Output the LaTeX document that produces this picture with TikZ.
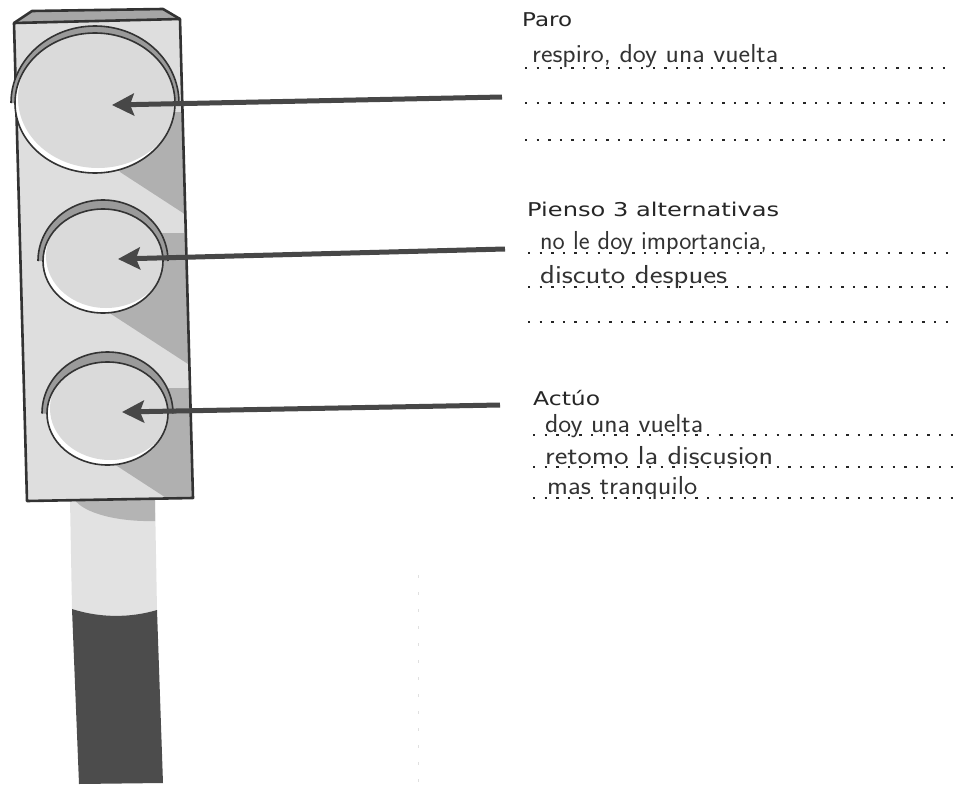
\documentclass[tikz,border=0pt]{standalone}
\usepackage{fontspec}
\usepackage{graphicx}
\setmainfont{DejaVu Sans}
\usetikzlibrary{arrows.meta,calc}

\definecolor{ink}{HTML}{262626}
\definecolor{pencil}{HTML}{333333}
\definecolor{outline}{HTML}{333333}
\definecolor{housingface}{HTML}{DEDEDE}
\definecolor{castshade}{HTML}{B0B0B0}
\definecolor{bevelgray}{HTML}{A6A6A6}
\definecolor{visorgray}{HTML}{9A9A9A}
\definecolor{lensgray}{HTML}{DADADA}
\definecolor{arrowgray}{HTML}{474747}
\definecolor{polelight}{HTML}{E2E2E2}
\definecolor{poledark}{HTML}{4C4C4C}
\definecolor{poleshade}{HTML}{B4B4B4}

% stretch a text to a given width (in pt) while keeping its height
\newcommand\fitto[2]{\resizebox{#1pt}{\height}{#2}}

\tikzset{
  header/.style={anchor=base west, inner sep=0pt, text=ink,
    font=\fontsize{19}{22}\selectfont},
  scribble/.style={anchor=base west, inner sep=0pt, text=pencil,
    font=\sffamily\fontsize{26}{28}\selectfont},
  answerline/.style={draw=ink, line width=2.4pt, dash pattern=on 2.4pt off 9.2pt},
  pointer/.style={draw=arrowgray, line width=5pt,
    -{Stealth[length=22pt,width=22pt,inset=4pt]}},
  housingedge/.style={draw=outline, line width=2.6pt, line join=round},
  lensedge/.style={draw=outline, line width=1.6pt},
}

% diagonal shadow to the right of a lens, kept inside the housing
% #1 x where it leaves the lens bottom, #2 y of that point, #3 lens cx, #4 upper y
\newcommand\lensshadow[4]{%
  \begin{scope}
    \clip (14,23) -- (180,19) -- (193,498) -- (27,501) -- cycle;
    \fill[castshade] (#1,#2) -- ({#1+150},{#2+97.5}) -- (220,#4) -- (#3,#4) -- cycle;
  \end{scope}
}

% visor and lens: #1 name, #2 cx, #3 cy, #4 rx, #5 ry, #6 visor x extra, #7 visor y extra
\newcommand\lamp[7]{%
  \coordinate (#1) at (#2,#3);
  \fill[visorgray] ({#2-#4-#6},#3) arc[start angle=180, end angle=0,
      x radius={#4pt+#6pt}, y radius={#5pt+#7pt}] -- cycle;
  \draw[lensedge] ({#2-#4-#6},#3) arc[start angle=180, end angle=0,
      x radius={#4pt+#6pt}, y radius={#5pt+#7pt}];
  \begin{scope}
    \clip (#1) ellipse[x radius=#4pt, y radius=#5pt];
    \fill[white] (#1) ellipse[x radius=#4pt, y radius=#5pt];
    \fill[lensgray] ($(#1)+(3,-5)$) ellipse[x radius=#4pt, y radius=#5pt];
  \end{scope}
  \draw[lensedge] (#1) ellipse[x radius=#4pt, y radius=#5pt];
}

\begin{document}
\begin{tikzpicture}[x=1pt, y=-1pt]
  \useasboundingbox[fill=white] (0,0) rectangle (959,787);

  % pole
  \fill[polelight] (70,499) -- (155,499) -- (157,610)
      .. controls (130,618) and (100,618) .. (72,609) -- cycle;
  \fill[poleshade] (74,499) .. controls (84,514) and (120,522) .. (155,521) -- (155,499) -- cycle;
  \fill[poledark] (72,609) .. controls (100,618) and (130,618) .. (157,610)
      -- (163,783) -- (79,784) -- cycle;

  % housing
  \fill[housingface] (14,23) -- (180,19) -- (193,498) -- (27,501) -- cycle;
  \lensshadow{120}{172}{95}{112}
  \lensshadow{108}{312}{103}{233}
  \lensshadow{114}{464}{107}{388}
  \fill[bevelgray] (14,23) -- (32,11) -- (163,9) -- (180,19) -- cycle;
  \draw[housingedge] (14,23) -- (32,11) -- (163,9) -- (180,19);
  \draw[housingedge] (14,23) -- (180,19) -- (193,498) -- (27,501) -- cycle;

  % lights
  \lamp{stop}{95}{103}{80}{70}{4}{7}
  \lamp{think}{103}{261}{60}{52}{5}{9}
  \lamp{act}{107.5}{413.5}{60.5}{51.5}{5}{10}

  % pointers
  \coordinate (stopTail) at (502,97);
  \coordinate (stopTip) at (112,105);
  \coordinate (thinkTail) at (505,249);
  \coordinate (thinkTip) at (118,259);
  \coordinate (actTail) at (500,405);
  \coordinate (actTip) at (122,412);
  \draw[pointer] (stopTail) -- (stopTip);
  \draw[pointer] (thinkTail) -- (thinkTip);
  \draw[pointer] (actTail) -- (actTip);

  % headings
  \node[header] (paro) at (522,27) {\fitto{50}{Paro}};
  \node[header] (pienso) at (527,216) {\fitto{252}{Pienso 3 alternativas}};
  \node[header] (actuo) at (533,405) {\fitto{67}{Actúo}};

  % answer lines
  \draw[answerline] (525,68) -- (947,68);
  \draw[answerline] (525,103) -- (947,103);
  \draw[answerline] (525,140) -- (947,140);
  \draw[answerline] (528,253) -- (949,253);
  \draw[answerline] (528,287) -- (949,287);
  \draw[answerline] (528,322) -- (949,322);
  \draw[answerline] (533,435) -- (959,435);
  \draw[answerline] (533,467) -- (959,467);
  \draw[answerline] (533,498) -- (959,498);

  % handwritten answers
  \node[scribble] (a1) at (532,62) {\fitto{246}{respiro, doy una vuelta}};
  \node[scribble] (b1) at (540,249) {\fitto{227}{no le doy importancia,}};
  \node[scribble] (b2) at (540,283) {\fitto{187}{discuto despues}};
  \node[scribble] (c1) at (545,432) {\fitto{158}{doy una vuelta}};
  \node[scribble] (c2) at (545,464) {\fitto{228}{retomo la discusion}};
  \node[scribble] (c3) at (547,494) {\fitto{150}{mas tranquilo}};

  % faint fold mark
  \draw[black!12, line width=0.8pt, dash pattern=on 3pt off 14pt] (418,575) -- (418,787);
\end{tikzpicture}
\end{document}
